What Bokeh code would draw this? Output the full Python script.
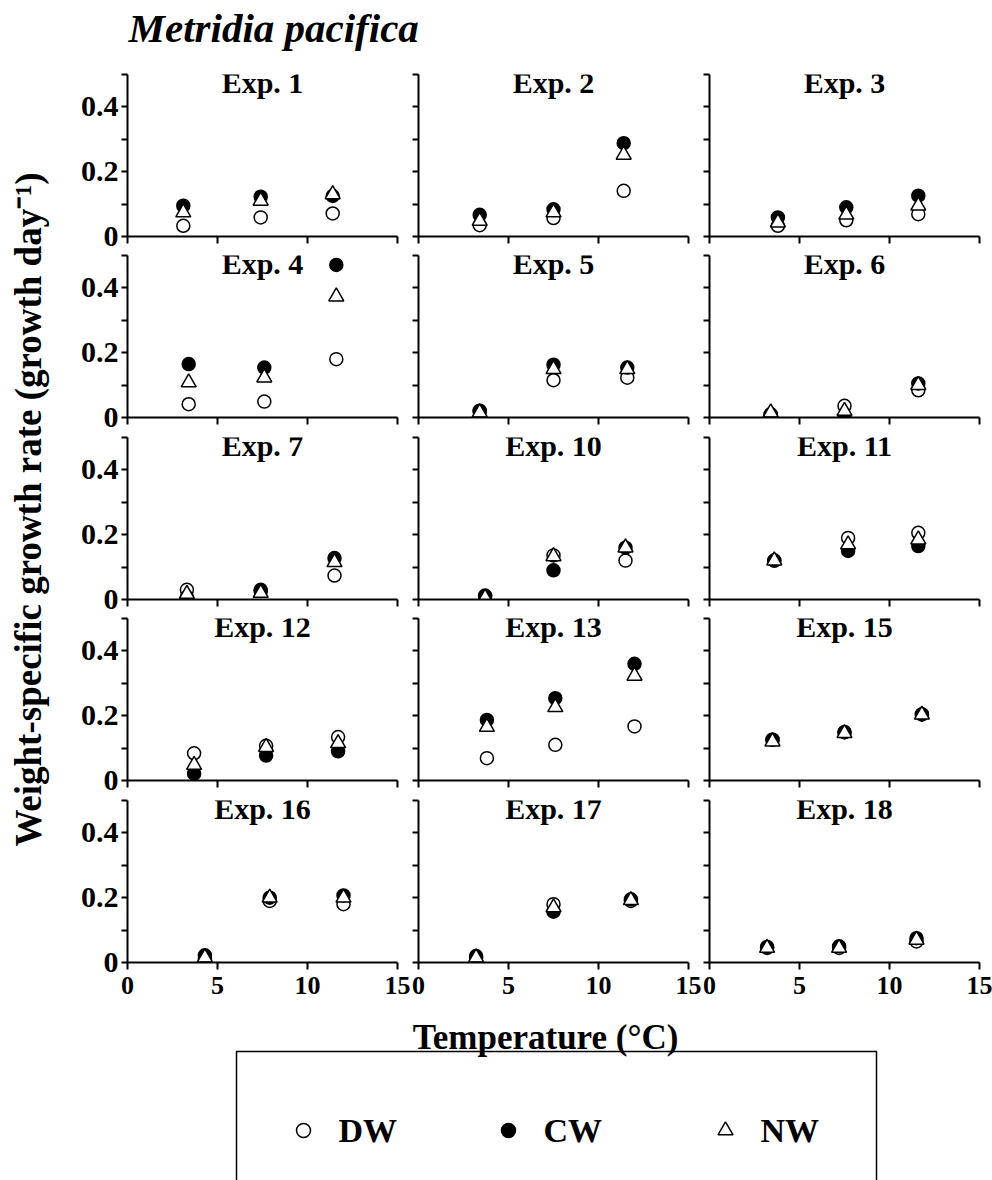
from math import pi
from bokeh.plotting import figure
from bokeh.layouts import row, column
from bokeh.models import Range1d, FixedTicker, Label, ColumnDataSource
from bokeh.embed import file_html
from bokeh.resources import INLINE
from bokeh.core.properties import value

# ---------------- data ----------------
experiments = ["Exp. 1", "Exp. 2", "Exp. 3", "Exp. 4", "Exp. 5", "Exp. 6",
               "Exp. 7", "Exp. 10", "Exp. 11", "Exp. 12", "Exp. 13", "Exp. 15",
               "Exp. 16", "Exp. 17", "Exp. 18"]

temperature = [
    [3.1, 7.4, 11.4], [3.4, 7.5, 11.4], [3.8, 7.6, 11.6],
    [3.4, 7.6, 11.6], [3.4, 7.5, 11.6], [3.4, 7.5, 11.6],
    [3.3, 7.4, 11.5], [3.7, 7.5, 11.5], [3.6, 7.7, 11.6],
    [3.7, 7.7, 11.7], [3.8, 7.6, 12.0], [3.5, 7.5, 11.8],
    [4.3, 7.9, 12.0], [3.2, 7.5, 11.8], [3.2, 7.2, 11.5],
]

dw = [
    [0.033, 0.059, 0.071], [0.035, 0.057, 0.141], [0.033, 0.050, 0.069],
    [0.041, 0.049, 0.180], [0.021, 0.115, 0.123], [0.010, 0.036, 0.084],
    [0.030, 0.026, 0.074], [0.012, 0.136, 0.120], [0.120, 0.190, 0.206],
    [0.084, 0.107, 0.134], [0.069, 0.110, 0.167], [0.126, 0.149, 0.204],
    [0.010, 0.190, 0.180], [0.015, 0.180, 0.190], [0.045, 0.045, 0.065],
]
cw = [
    [0.095, 0.123, 0.125], [0.067, 0.084, 0.288], [0.059, 0.090, 0.126],
    [0.165, 0.154, 0.471], [0.019, 0.163, 0.154], [0.010, 0.002, 0.105],
    [0.007, 0.030, 0.128], [0.010, 0.090, 0.160], [0.120, 0.150, 0.165],
    [0.021, 0.077, 0.090], [0.187, 0.254, 0.360], [0.126, 0.149, 0.204],
    [0.022, 0.200, 0.207], [0.020, 0.157, 0.195], [0.048, 0.050, 0.075],
]
nw = [
    [0.074, 0.110, 0.130], [0.048, 0.074, 0.252], [0.043, 0.067, 0.095],
    [0.108, 0.123, 0.373], [0.015, 0.149, 0.149], [0.015, 0.020, 0.100],
    [0.017, 0.020, 0.115], [0.005, 0.133, 0.160], [0.120, 0.170, 0.185],
    [0.048, 0.103, 0.115], [0.165, 0.226, 0.323], [0.120, 0.146, 0.203],
    [0.015, 0.200, 0.200], [0.015, 0.170, 0.192], [0.045, 0.045, 0.070],
]

series_names = ["DW", "CW", "NW"]
series_markers = ["circle", "circle", "triangle"]
series_fills = ["white", "black", "white"]
series_sizes = [13, 13, 15]

x_ticks = [0, 5, 10, 15]
y_major_ticks = [0, 0.2, 0.4]
y_minor_ticks = [0.1, 0.3, 0.5]

title_text = "Metridia pacifica"
x_label = "Temperature (\u00b0C)"
y_label = "Weight-specific growth rate (growth day\u207b\u00b9)"

FONT = "Liberation Serif"

# ---------------- layout constants ----------------
FRAME_W, FRAME_H = 270, 162
BORDER_L = [8, 7, 7]
BORDER_R = [14, 14, 13]
BORDER_T = 10
BORDER_B = [9, 10, 9, 10, 50]
YL_W = 58          # width of the y-axis title strip
YT_W = 61          # width of the strip carrying the left y tick labels
TITLE_H = 64


def style_hidden_labels(ax, ticks):
    ax.major_label_overrides = {t: "" for t in ticks}
    ax.major_label_text_font_size = "1px"
    ax.major_label_standoff = 0


def make_panel(i):
    r, c = divmod(i, 3)
    w = BORDER_L[c] + FRAME_W + BORDER_R[c]
    h = BORDER_T + FRAME_H + BORDER_B[r]
    p = figure(width=w, height=h, x_range=Range1d(0, 15), y_range=Range1d(0, 0.5),
               output_backend="svg", toolbar_location=None,
               min_border_left=BORDER_L[c], min_border_right=BORDER_R[c],
               min_border_top=BORDER_T, min_border_bottom=BORDER_B[r])
    p.outline_line_color = None
    p.grid.visible = False
    p.background_fill_color = None
    p.border_fill_color = None

    xa = p.xaxis[0]
    xa.ticker = FixedTicker(ticks=x_ticks, minor_ticks=[])
    xa.axis_line_width = 2
    xa.major_tick_line_width = 2
    xa.major_tick_in = 0
    xa.major_tick_out = 7
    xa.minor_tick_in = 0
    xa.minor_tick_out = 0
    if r == 4:
        xa.major_label_text_font = FONT
        xa.major_label_text_font_style = "bold"
        xa.major_label_text_font_size = "26px"
        xa.major_label_text_color = "black"
        xa.major_label_standoff = 7
    else:
        style_hidden_labels(xa, x_ticks)

    ya = p.yaxis[0]
    ya.ticker = FixedTicker(ticks=y_major_ticks, minor_ticks=y_minor_ticks)
    ya.axis_line_width = 2
    ya.major_tick_line_width = 2
    ya.minor_tick_line_width = 2
    ya.major_tick_in = 0
    ya.major_tick_out = 6
    ya.minor_tick_in = 0
    ya.minor_tick_out = 6
    style_hidden_labels(ya, y_major_ticks)

    for vals, name, mk, fc, sz in zip((dw[i], cw[i], nw[i]), series_names,
                                       series_markers, series_fills, series_sizes):
        src = ColumnDataSource(dict(x=temperature[i], y=vals))
        p.scatter("x", "y", source=src, marker=mk, size=sz, fill_color=fc,
                  line_color="black", line_width=1.5)

    p.add_layout(Label(x=7.5, y=0.5, y_offset=-8, text=experiments[i],
                       text_align="center", text_baseline="middle",
                       text_font=FONT, text_font_style="bold",
                       text_font_size="30px", text_color="black"))
    return p


panels = [make_panel(i) for i in range(15)]
grid = column([row(panels[3 * r:3 * r + 3]) for r in range(5)])

grid_w = sum(BORDER_L[c] + FRAME_W + BORDER_R[c] for c in range(3))
row_h = [BORDER_T + FRAME_H + b for b in BORDER_B]
grid_h = sum(row_h)
TOTAL_W = YL_W + YT_W + grid_w

# tick-label strips for the left column (linked to each left panel's y range)
frame_tops = [sum(row_h[:r]) + BORDER_T for r in range(5)]
strip_tops = [0] + [frame_tops[r] + FRAME_H + 18 for r in range(4)]
strips = []
for r in range(5):
    top = strip_tops[r]
    bottom = strip_tops[r + 1] if r < 4 else grid_h
    t_b = frame_tops[r] - top
    b_b = bottom - (frame_tops[r] + FRAME_H)
    s = figure(width=YT_W, height=bottom - top, x_range=Range1d(0, 1),
               y_range=panels[3 * r].y_range, x_axis_type=None,
               output_backend="svg", toolbar_location=None,
               min_border_left=YT_W - 1, min_border_right=0,
               min_border_top=t_b, min_border_bottom=b_b)
    s.outline_line_color = None
    s.grid.visible = False
    s.background_fill_color = None
    s.border_fill_color = None
    ya = s.yaxis[0]
    ya.ticker = FixedTicker(ticks=y_major_ticks, minor_ticks=[])
    ya.axis_line_color = None
    ya.major_tick_line_color = None
    ya.minor_tick_line_color = None
    ya.major_tick_in = 0
    ya.major_tick_out = 0
    ya.minor_tick_in = 0
    ya.minor_tick_out = 0
    ya.major_label_overrides = {0: "0"}
    ya.major_label_text_font = FONT
    ya.major_label_text_font_style = "bold"
    ya.major_label_text_font_size = "30px"
    ya.major_label_text_color = "black"
    ya.major_label_standoff = 0
    strips.append(s)
strip_col = column(strips)

# y-axis title
ylab = figure(width=YL_W, height=grid_h, x_range=Range1d(0, YL_W), y_range=Range1d(grid_h, 0),
              x_axis_type=None, y_axis_type=None, output_backend="svg",
              toolbar_location=None, min_border=0)
ylab.outline_line_color = None
ylab.grid.visible = False
ylab.text(x=[28], y=[509 - TITLE_H], text=[y_label], angle=pi / 2,
          text_align="center", text_baseline="middle",
          text_font=value(FONT), text_font_style="bold", text_font_size="37px",
          text_color="black")

# title
tfig = figure(width=TOTAL_W, height=TITLE_H, x_range=Range1d(0, TOTAL_W), y_range=Range1d(TITLE_H, 0),
              x_axis_type=None, y_axis_type=None, output_backend="svg",
              toolbar_location=None, min_border=0)
tfig.outline_line_color = None
tfig.grid.visible = False
tfig.text(x=[128], y=[27], text=[title_text], text_align="left",
          text_baseline="middle", text_font=value(FONT), text_font_style="bold italic",
          text_font_size="41px", text_color="black")

# footer: x title + legend
FOOT_H = 1180 - TITLE_H - grid_h
ffig = figure(width=TOTAL_W, height=FOOT_H, x_range=Range1d(0, TOTAL_W), y_range=Range1d(FOOT_H, 0),
              x_axis_type=None, y_axis_type=None, output_backend="svg",
              toolbar_location=None, min_border=0)
ffig.outline_line_color = None
ffig.grid.visible = False
foot_top = TITLE_H + grid_h
ffig.text(x=[545], y=[1037 - foot_top], text=[x_label], text_align="center",
          text_baseline="middle", text_font=value(FONT), text_font_style="bold",
          text_font_size="35px", text_color="black")

box_l, box_r, box_t = 236, 876, 1051 - foot_top
ffig.line(x=[box_l, box_l, box_r, box_r], y=[FOOT_H + 10, box_t, box_t, FOOT_H + 10],
          line_color="black", line_width=1.5)

key_x = [303, 508, 725]
key_y = 1130 - foot_top
for kx, name, mk, fc in zip(key_x, series_names, series_markers, series_fills):
    ffig.scatter(x=[kx], y=[key_y], marker=mk, size=15 if mk == "triangle" else 14,
                 fill_color=fc, line_color="black", line_width=1.5)
    ffig.text(x=[kx + 35], y=[key_y], text=[name], text_align="left", text_baseline="middle",
              text_font=value(FONT), text_font_style="bold", text_font_size="34px",
              text_color="black")

layout = column(tfig, row(ylab, strip_col, grid), ffig)

open("out.html", "w").write(file_html(layout, INLINE))
